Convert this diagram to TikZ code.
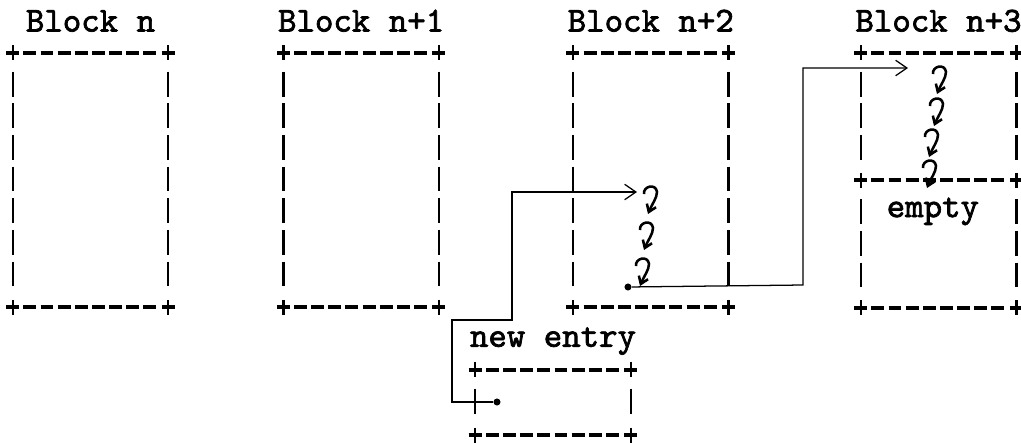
\documentclass[tikz,border=0pt]{standalone}
\usepackage{fontspec}
\newfontfamily\boxmono{lmmono10-regular.otf}[FakeBold=2]
\usetikzlibrary{arrows.meta, positioning}
\newcommand{\ttbold}{\boxmono\fontsize{25}{29}\selectfont}
\tikzset{
  blockbox/.style={minimum width=3.875cm, minimum height=6.35cm, inner sep=0pt},
  halfbox/.style={blockbox, minimum height=3.175cm},
  entrybox/.style={blockbox, minimum height=1.625cm},
  hdash/.style={line width=2.6pt, dash pattern=on 9.2pt off 3pt},
  vdash/.style={line width=1.7pt, dash pattern=on 17.7pt off 4.8pt},
  blocklabel/.style={font=\ttbold, anchor=base, inner sep=0pt},
  dot/.style={circle, fill, inner sep=0pt, minimum size=5pt},
  handarr/.style={-{Straight Barb[length=8pt, width=11pt]}, line width=0.9pt},
  curlarr/.style={-{Straight Barb[length=5pt, width=7pt]}, line width=1.8pt},
  curl/.pic={\draw[curlarr] (0,8) .. controls (-1,0) and (12,-3) .. (13,6)
    .. controls (13,12) and (8,18) .. (4,28);},
}
% one ascii style frame: dashes, bars and plus corners
\newcommand{\asciiframe}[1]{%
  \draw[hdash] ([xshift=7.6pt]#1.north west) -- ([xshift=-7.6pt]#1.north east);
  \draw[hdash] ([xshift=7.6pt]#1.south west) -- ([xshift=-7.6pt]#1.south east);
  \draw[vdash] ([yshift=-13.5pt]#1.north west) -- ([yshift=13.5pt]#1.south west);
  \draw[vdash] ([yshift=-13.5pt]#1.north east) -- ([yshift=13.5pt]#1.south east);
  \foreach \c in {north west, north east, south west, south east}{
    \draw[line width=2.6pt] (#1.\c) +(-6.5,0) -- +(6.5,0);
    \draw[line width=1.7pt] (#1.\c) +(0,-7.5) -- +(0,7.5);
  }%
}

\begin{document}
\begin{tikzpicture}[x=0.025cm, y=-0.025cm]
  \path[fill=white, use as bounding box] (0,0) rectangle (1021,442);

  % the blocks
  \node[blockbox] (a) at (90.5,180) {};
  \node[blockbox, right=2.875cm of a] (b) {};
  \node[blockbox, right=3.35cm of b] (c) {};
  \node[halfbox] (d1) at (938.5,116.5) {};
  \node[halfbox, below=0pt of d1] (d2) {};
  \node[entrybox] (e) at (553,402.5) {};
  \asciiframe{a} \asciiframe{b} \asciiframe{c}
  \asciiframe{d1} \asciiframe{d2} \asciiframe{e}

  \node[blocklabel] (la) at ([yshift=15pt]a.north) {Block n};
  \node[blocklabel] (lb) at ([yshift=15pt]b.north) {Block n+1};
  \node[blocklabel] (lc) at ([yshift=15pt]c.north) {Block n+2};
  \node[blocklabel] (ld) at ([yshift=15pt]d1.north) {Block n+3};
  \node[blocklabel] (le) at ([yshift=16.3pt]e.north) {new entry};
  \node[blocklabel] (emp) at ([xshift=-4pt, yshift=-26.2pt]d2.north) {empty};

  % hand drawn links
  \node[dot] (p1) at (497,402) {};
  \node[dot] (p2) at (628,287) {};
  \coordinate (t1) at (637,192);
  \coordinate (t2) at (908,68);
  \draw[handarr] (p1) -- ++(-45,0) |- ++(60,-82) |- (t1);
  \draw[handarr] (p2) -- ++(175,-2) |- (t2);

  \foreach \x/\y in {644/186, 640/222, 636/258}
    \pic at (\x,\y) {curl};
  \foreach \x/\y in {933/66, 930/98, 925/129, 923/160}
    \pic at (\x,\y) {curl};
\end{tikzpicture}
\end{document}
